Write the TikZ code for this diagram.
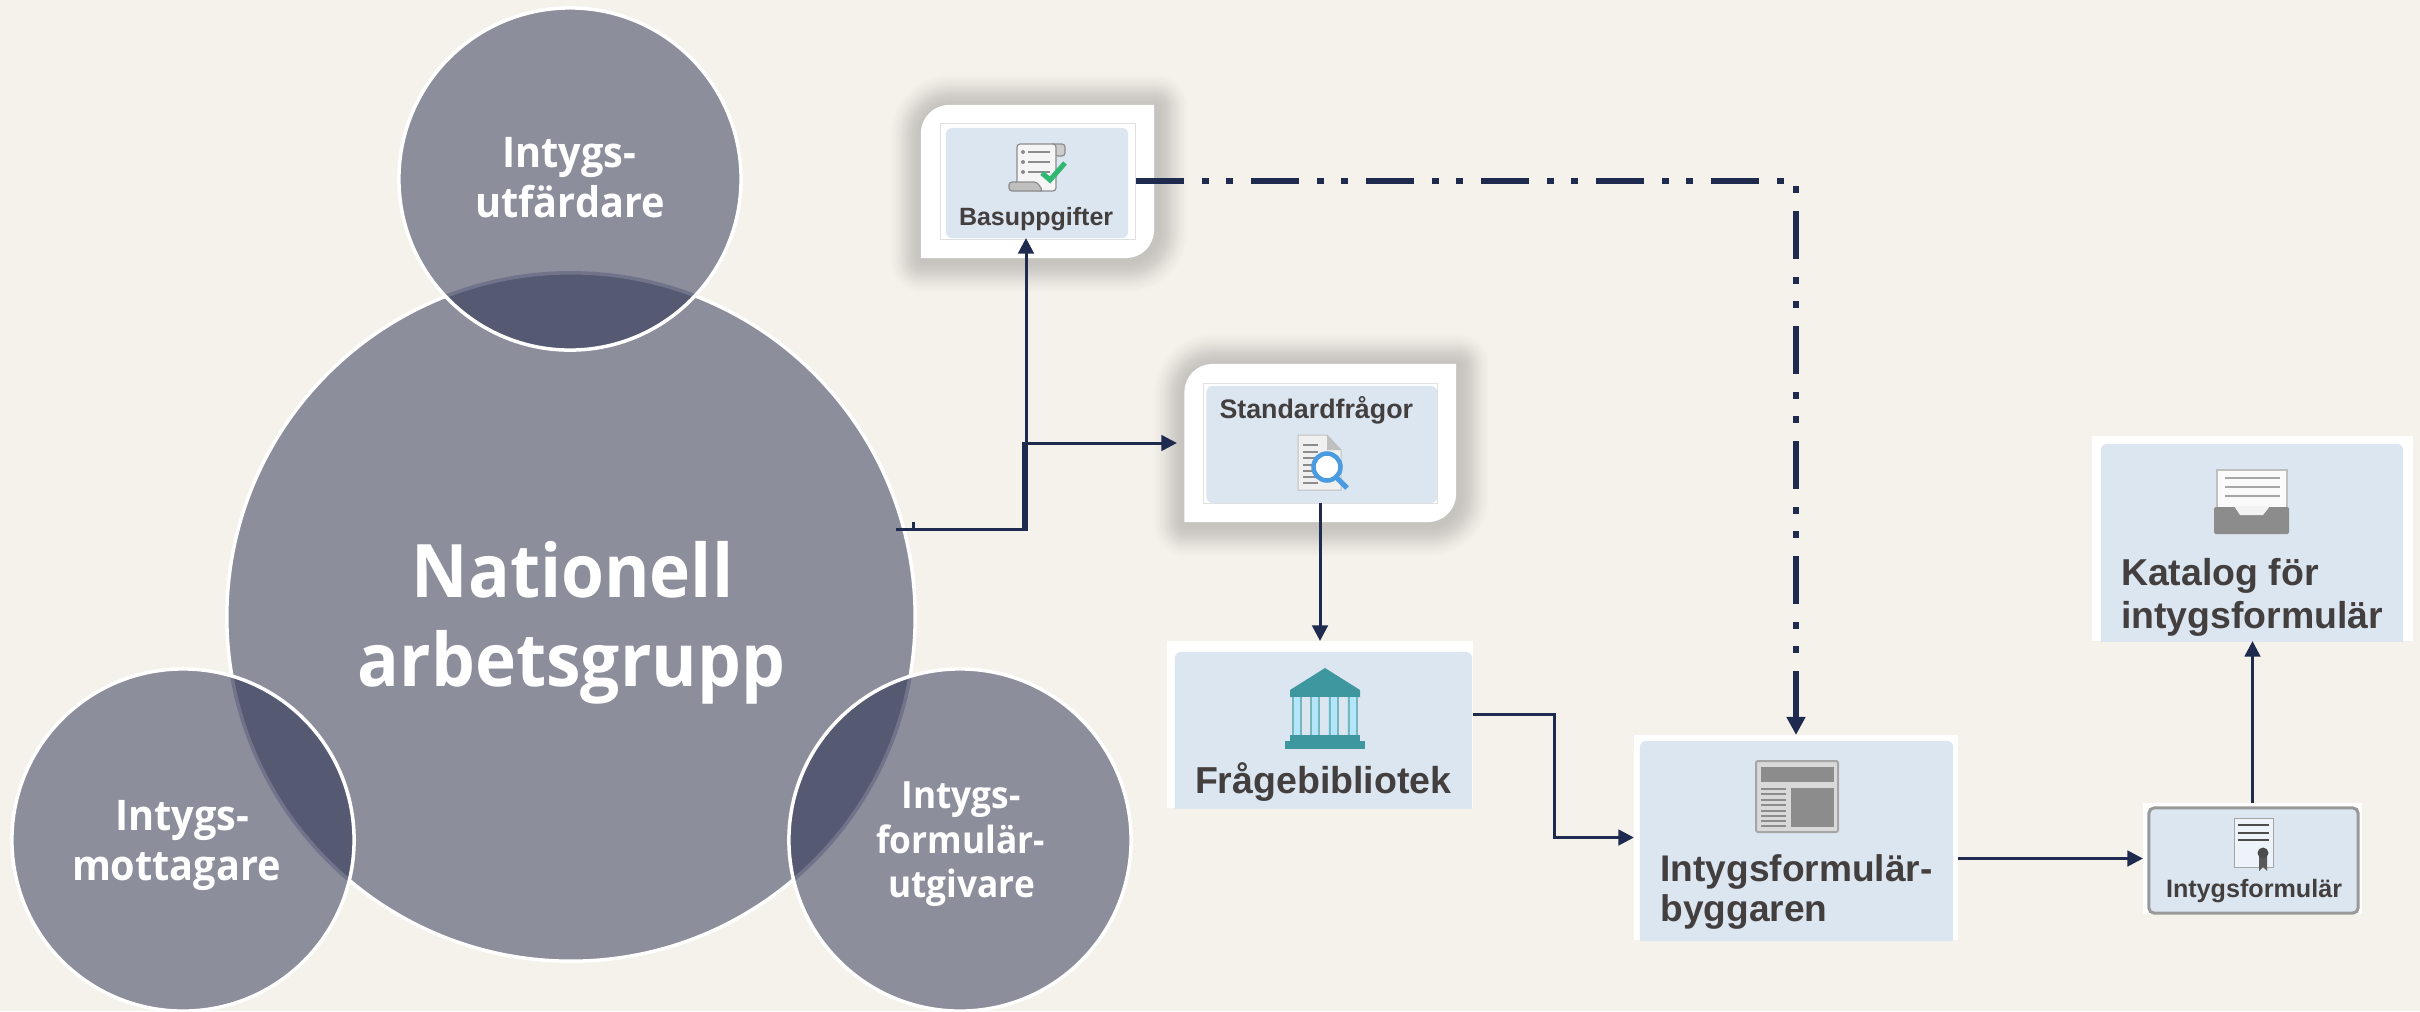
\documentclass[tikz,border=0pt]{standalone}
\usepackage{fontspec}
\setmainfont{Liberation Sans}
\newfontfamily\circfont[FakeStretch=.94]{Open Sans}
\usetikzlibrary{arrows.meta}
\definecolor{bgc}{HTML}{F5F2EC}
\definecolor{circc}{HTML}{8C8E9C}
\definecolor{lensc}{HTML}{555A72}
\definecolor{lensedge}{HTML}{70738A}
\definecolor{navy}{HTML}{1F2A4F}
\definecolor{paleb}{HTML}{DCE6F1}
\definecolor{txtc}{HTML}{443F3F}
\definecolor{iconc}{HTML}{8C8C8C}
\definecolor{tealc}{HTML}{3E979F}
\definecolor{checkc}{HTML}{2EB872}
\definecolor{lensblue}{HTML}{4A9BE0}
\tikzset{
  circ/.style={circle,inner sep=0pt,outer sep=0pt,minimum size=#1},
  ring/.style={draw=white,line width=.035cm},
  frameb/.style={rectangle,fill=white,inner sep=0pt,outer sep=0pt},
  faint/.style={rectangle,fill=white,draw=black!12,line width=.006cm,inner sep=0pt,outer sep=0pt},
  pale/.style={rectangle,fill=paleb,rounded corners=.06cm,inner sep=0pt,outer sep=0pt},
  cardlabel/.style={text=txtc,inner sep=0pt,outer sep=0pt,anchor=base west},
  circlabel/.style={text=white,inner sep=0pt,outer sep=0pt,anchor=base},
  link/.style={draw=navy,line width=.03cm,-{Triangle[length=.155cm,width=.155cm]}},
  plain/.style={draw=navy,line width=.03cm},
  dashlink/.style={draw=navy,line width=.06cm,dash pattern=on .48cm off .18cm on .07cm off .17cm on .07cm off .18cm,-{Triangle[length=.18cm,width=.18cm]}},
  iconline/.style={draw=iconc,line width=.02cm},
  bigfont/.style={font=\circfont\bfseries\fontsize{21}{24}\selectfont},
  midfont/.style={font=\circfont\bfseries\fontsize{12}{14}\selectfont},
  smallfont/.style={font=\circfont\bfseries\fontsize{10.67}{13}\selectfont},
}
\newcommand{\softcard}[1]{%
  \foreach \r/\p in {32/1,30/2,28/3,26/4,24/5.5,22/7,20/8.5,18/10,16/12,14/13.5,12/15,10/16,8/17,6/18,4/18.5,2/19}{%
    \draw[draw=black!\p!bgc,line join=round,line width=\r*.02cm]
      ([shift={(1.5,2)}]#1.south west) [rounded corners=.28cm] -- ([shift={(1.5,2)}]#1.north west) [sharp corners] -- ([shift={(1.5,2)}]#1.north east) [rounded corners=.28cm] -- ([shift={(1.5,2)}]#1.south east) [sharp corners] -- cycle;
  }%
  \fill[white] (#1.south west) [rounded corners=.28cm] -- (#1.north west) [sharp corners] -- (#1.north east) [rounded corners=.28cm] -- (#1.south east) [sharp corners] -- cycle;
}
\begin{document}
\begin{tikzpicture}[x=.01cm,y=-.01cm]
\useasboundingbox (0,0) rectangle (2420,1011);
\fill[bgc] (0,0) rectangle (2420,1011);

% circles
\node[circ=6.88cm,fill=circc,ring] (main) at (571,617) {};
\node[circ=3.42cm,fill=circc] (top) at (570,179) {};
\node[circ=3.42cm,fill=circc] (left) at (183,840) {};
\node[circ=3.42cm,fill=circc] (right) at (960,840) {};
\begin{scope}
  \clip (571,617) circle (3.44cm);
  \fill[lensc] (570,179) circle (1.71cm);
  \fill[lensc] (183,840) circle (1.71cm);
  \fill[lensc] (960,840) circle (1.71cm);
\end{scope}
\foreach \cx/\cy in {570/179,183/840,960/840}{
  \begin{scope}
    \clip (\cx,\cy) circle (1.71cm);
    \draw[lensedge,line width=.035cm] (571,617) circle (3.44cm);
  \end{scope}
}
\draw[ring] (570,179) circle (1.71cm);
\draw[ring] (183,840) circle (1.71cm);
\draw[ring] (960,840) circle (1.71cm);

\node[circlabel,bigfont] (tmain1) at (572.5,597) {Nationell};
\node[circlabel,bigfont] (tmain2) at (571.5,686) {arbetsgrupp};
\node[circlabel,midfont] (ttop1) at (569,167) {Intygs-};
\node[circlabel,midfont] (ttop2) at (570,217) {utfärdare};
\node[circlabel,midfont] (tleft1) at (182,830) {Intygs-};
\node[circlabel,midfont] (tleft2) at (176.5,880) {mottagare};
\node[circlabel,smallfont] (tright1) at (961,808) {Intygs-};
\node[circlabel,smallfont] (tright2) at (960.5,853) {formulär-};
\node[circlabel,smallfont] (tright3) at (961.5,897) {utgivare};

% shadowed cards
\node[frameb,minimum width=2.33cm,minimum height=1.53cm,fill=none] (bas) at (1037.5,181.5) {};
\softcard{bas}
\node[faint,minimum width=1.955cm,minimum height=1.16cm] (basf) at (1037.75,181) {};
\node[pale,minimum width=1.82cm,minimum height=1.10cm] (basb) at (1037,183) {};
\node[frameb,minimum width=2.715cm,minimum height=1.58cm,fill=none] (std) at (1320.25,443) {};
\softcard{std}
\node[faint,minimum width=2.34cm,minimum height=1.20cm] (stdf) at (1320,443) {};
\node[pale,minimum width=2.305cm,minimum height=1.17cm] (stdb) at (1321.75,444.5) {};

% plain cards
\node[frameb,minimum width=3.06cm,minimum height=1.67cm] (frag) at (1320,724.5) {};
\begin{scope}
  \clip (1167,641) rectangle (1473,808);
  \node[pale,minimum width=2.97cm,minimum height=1.66cm] (fragb) at (1323.5,735) {};
\end{scope}
\node[frameb,minimum width=3.24cm,minimum height=2.05cm] (byg) at (1796,837.5) {};
\begin{scope}
  \clip (1634,735) rectangle (1958,940);
  \node[pale,minimum width=3.13cm,minimum height=2.09cm] (bygb) at (1796.5,845.5) {};
\end{scope}
\node[frameb,minimum width=3.21cm,minimum height=2.05cm] (kat) at (2252.5,538.5) {};
\begin{scope}
  \clip (2092,436) rectangle (2413,641);
  \node[pale,minimum width=3.02cm,minimum height=2.07cm] (katb) at (2252,547.5) {};
\end{scope}
\node[frameb,minimum width=2.19cm,minimum height=1.11cm] (cert) at (2252.5,858.5) {};
\node[pale,draw=black!40,line width=.03cm,rounded corners=.05cm,minimum width=2.09cm,minimum height=1.05cm] (certb) at (2253.5,860.5) {};

% card labels
\node[cardlabel,font=\bfseries\fontsize{7.11}{8}\selectfont] (lbas) at (959,225) {Basuppgifter};
\node[cardlabel,font=\bfseries\fontsize{7.62}{9}\selectfont] (lstd) at (1219.5,418) {Standardfrågor};
\node[cardlabel,font=\bfseries\fontsize{10.67}{12}\selectfont] (lfrag) at (1195,793) {Frågebibliotek};
\node[cardlabel,font=\bfseries\fontsize{10.55}{11.38}\selectfont] (lbyg1) at (1660.5,881.7) {Intygsformulär-};
\node[cardlabel,font=\bfseries\fontsize{10.55}{11.38}\selectfont] (lbyg2) at (1660.5,921.7) {byggaren};
\node[cardlabel,font=\bfseries\fontsize{10.65}{12}\selectfont] (lkat1) at (2121,585.7) {Katalog för};
\node[cardlabel,font=\bfseries\fontsize{10.65}{12}\selectfont] (lkat2) at (2121,628) {intygsformulär};
\node[cardlabel,font=\bfseries\fontsize{7.15}{8}\selectfont] (lcert) at (2166,897) {Intygsformulär};

% icon: scroll with check
\fill[black!20,draw=iconc,line width=.012cm,rounded corners=.03cm] (1050,144) -- (1065,144) -- (1065,156) -- (1055,156) -- cycle;
\fill[black!4,draw=iconc,line width=.012cm,rounded corners=.03cm] (1017,188) -- (1017,144) -- (1056,144) -- (1056,191) -- (1040,191) -- cycle;
\fill[black!25,draw=iconc,line width=.012cm,rounded corners=.03cm] (1009,182) -- (1037,182) -- (1043,191) -- (1009,191) -- cycle;
\foreach \yy in {152,162,172}{\draw[iconline,line width=.012cm] (1028,\yy) -- (1050,\yy); \fill[iconc] (1023,\yy) circle (.02cm);}
\draw[draw=checkc,line width=.05cm] (1042,173) -- (1050,180) -- (1065,163);

% icon: document with magnifier
\fill[black!6,draw=black!25,line width=.01cm] (1298,435) -- (1327,435) -- (1341,450) -- (1341,490) -- (1298,490) -- cycle;
\fill[black!25] (1327,435) -- (1341,450) -- (1327,450) -- cycle;
\foreach \yy in {445,452,458,465,471,477,483}{\draw[iconline,line width=.012cm] (1303,\yy) -- (1318,\yy);}
\draw[draw=lensblue,line width=.05cm] (1337,478) -- (1347,488);
\draw[draw=lensblue,line width=.045cm,fill=white] (1327,467) circle (.135cm);

% icon: temple
\fill[tealc] (1325,668) -- (1360,690) -- (1360,697) -- (1290,697) -- (1290,690) -- cycle;
\fill[cyan!30!white] (1293,697) rectangle (1357,735);
\foreach \xx in {1293,1301,1311,1319,1330,1338,1349,1357}{\draw[tealc!70!white,line width=.012cm] (\xx,697) -- (\xx,735);}
\foreach \xx in {1302,1320,1339}{\fill[paleb] (\xx,697) rectangle (\xx+8,735);}
\fill[tealc] (1290,735) rectangle (1360,741);
\fill[tealc] (1285,741) rectangle (1365,749);

% icon: newspaper
\fill[white!85!black,draw=black!35,line width=.02cm,rounded corners=.02cm] (1756,761) rectangle (1838,832);
\fill[iconc] (1761,767) rectangle (1834,782);
\fill[iconc] (1791,788) rectangle (1834,827);
\foreach \yy in {789,794,800,805,811,816,821,826}{\draw[iconline,line width=.025cm] (1761,\yy) -- (1786,\yy);}

% icon: tray
\fill[white!98!black,draw=black!25,line width=.012cm] (2217,508) -- (2217,470) -- (2287,470) -- (2287,508) -- cycle;
\foreach \yy in {478,487,496}{\draw[draw=black!35,line width=.02cm] (2225,\yy) -- (2280,\yy);}
\fill[iconc,rounded corners=.015cm] (2214,507) rectangle (2289,534);
\fill[white!95!black] (2234,506) -- (2240,515) -- (2263,515) -- (2270,506) -- cycle;

% icon: certificate
\fill[paleb!50!white,draw=black!35,line width=.01cm] (2234,818) rectangle (2273,867);
\foreach \yy in {825,833,840}{\draw[draw=black!70,line width=.025cm] (2238,\yy) -- (2269,\yy);}
\fill[black!65] (2259,857) -- (2267,857) -- (2267,871) -- (2263,867) -- (2259,871) -- cycle;
\fill[black!70] (2263,853) circle (.055cm);

% connectors
\coordinate (mainport) at ([shift={(325,-88)}]main.center);
\coordinate (tickport) at ([shift={(342.5,-88)}]main.center);
\coordinate (jcta) at (1026,529);
\coordinate (jctb) at (1023.7,529);
\coordinate (tickend) at ([shift={(0,-7)}]tickport);
\coordinate (fragport) at ([shift={(0,-10.5)}]frag.east);
\coordinate (fragmid) at (1554,837.5);
\draw[link] (mainport) -- (jcta) -- (jcta |- basb.south);
\draw[link,shorten >=.075cm] (jctb) |- (std.west);
\draw[plain] (tickport) -- (tickend);
\draw[link] (stdf.south) -- (frag.north);
\draw[link] (fragport) -| (fragmid) -- (byg.west);
\draw[link] (cert.west -| byg.east) -- (cert.west);
\draw[link] (cert.north) -- (kat.south);
\draw[dashlink] (basf.east) -| (byg.north);
\end{tikzpicture}
\end{document}
